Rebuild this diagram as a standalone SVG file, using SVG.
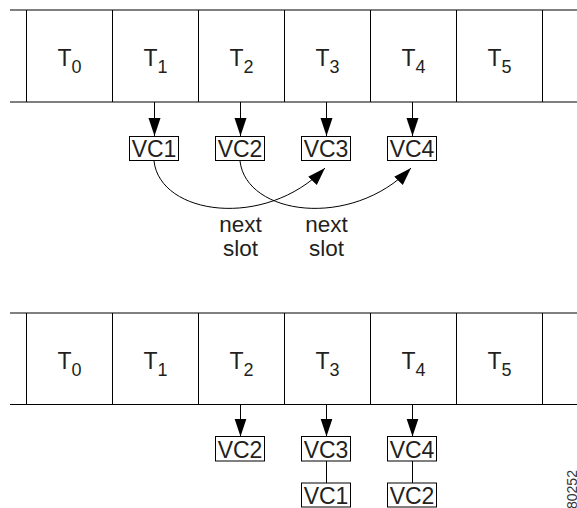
<svg xmlns="http://www.w3.org/2000/svg" width="577" height="508" viewBox="0 0 577 508">
<style>
.rail{stroke:#000;stroke-width:1;fill:none}
.box{fill:#fff;stroke:#000;stroke-width:1}
.t{font-family:"Liberation Sans",Arial,sans-serif;font-size:23px;fill:#231f20;text-anchor:middle}
.sub{font-size:18px}
.vc{font-family:"Liberation Sans",Arial,sans-serif;font-size:23px;fill:#231f20;text-anchor:middle}
.lbl{font-family:"Liberation Sans",Arial,sans-serif;font-size:22.5px;fill:#231f20;text-anchor:middle}
.id{font-family:"Liberation Sans",Arial,sans-serif;font-size:14px;fill:#333}
.conn{stroke:#000;stroke-width:1;fill:none}
</style>
<defs>
<marker id="ah" markerUnits="userSpaceOnUse" markerWidth="19" markerHeight="13" refX="18" refY="6" orient="auto">
<path d="M0,0 L18,6 L0,12 z" fill="#000"/>
</marker>
</defs>

<g id="band-top">
<path class="rail" d="M10,10 H577 M10,102 H577 M26.5,10 V102 M112.5,10 V102 M198.5,10 V102 M284.5,10 V102 M370.5,10 V102 M456.5,10 V102 M542.5,10 V102"/>
<g id="top-T0"><text class="t" x="69.5" y="66">T<tspan class="sub" dy="7">0</tspan></text></g>
<g id="top-T1"><text class="t" x="155.5" y="66">T<tspan class="sub" dy="7">1</tspan></text></g>
<g id="top-T2"><text class="t" x="241.5" y="66">T<tspan class="sub" dy="7">2</tspan></text></g>
<g id="top-T3"><text class="t" x="327.5" y="66">T<tspan class="sub" dy="7">3</tspan></text></g>
<g id="top-T4"><text class="t" x="413.5" y="66">T<tspan class="sub" dy="7">4</tspan></text></g>
<g id="top-T5"><text class="t" x="499.5" y="66">T<tspan class="sub" dy="7">5</tspan></text></g>
</g>

<g id="band-bottom">
<path class="rail" d="M10,313 H577 M10,404.5 H577 M26.5,313 V404.5 M112.5,313 V404.5 M198.5,313 V404.5 M284.5,313 V404.5 M370.5,313 V404.5 M456.5,313 V404.5 M542.5,313 V404.5"/>
<g id="bot-T0"><text class="t" x="69.5" y="369">T<tspan class="sub" dy="7">0</tspan></text></g>
<g id="bot-T1"><text class="t" x="155.5" y="369">T<tspan class="sub" dy="7">1</tspan></text></g>
<g id="bot-T2"><text class="t" x="241.5" y="369">T<tspan class="sub" dy="7">2</tspan></text></g>
<g id="bot-T3"><text class="t" x="327.5" y="369">T<tspan class="sub" dy="7">3</tspan></text></g>
<g id="bot-T4"><text class="t" x="413.5" y="369">T<tspan class="sub" dy="7">4</tspan></text></g>
<g id="bot-T5"><text class="t" x="499.5" y="369">T<tspan class="sub" dy="7">5</tspan></text></g>
</g>

<g id="connectors">
<line class="conn" x1="154.5" y1="102" x2="154.5" y2="136" marker-end="url(#ah)"/>
<line class="conn" x1="240.5" y1="102" x2="240.5" y2="136" marker-end="url(#ah)"/>
<line class="conn" x1="326.5" y1="102" x2="326.5" y2="136" marker-end="url(#ah)"/>
<line class="conn" x1="412.5" y1="102" x2="412.5" y2="136" marker-end="url(#ah)"/>
<path class="conn" d="M154,161 C160,215 265,230 325,168" marker-end="url(#ah)"/>
<path class="conn" d="M240,161 C246,215 351,230 411,168" marker-end="url(#ah)"/>
<line class="conn" x1="240.5" y1="404.5" x2="240.5" y2="436.5" marker-end="url(#ah)"/>
<line class="conn" x1="326.5" y1="404.5" x2="326.5" y2="436.5" marker-end="url(#ah)"/>
<line class="conn" x1="412.5" y1="404.5" x2="412.5" y2="436.5" marker-end="url(#ah)"/>
<line class="conn" x1="326.5" y1="461" x2="326.5" y2="483"/>
<line class="conn" x1="412.5" y1="461" x2="412.5" y2="483"/>
</g>

<g id="top-VC1"><rect class="box" x="129.5" y="136.5" width="49" height="24"/><text class="vc" x="154" y="157">VC1</text></g>
<g id="top-VC2"><rect class="box" x="215.5" y="136.5" width="49" height="24"/><text class="vc" x="240" y="157">VC2</text></g>
<g id="top-VC3"><rect class="box" x="301.5" y="136.5" width="49" height="24"/><text class="vc" x="326" y="157">VC3</text></g>
<g id="top-VC4"><rect class="box" x="387.5" y="136.5" width="49" height="24"/><text class="vc" x="412" y="157">VC4</text></g>

<g id="label-next1"><text class="lbl" x="240.5" y="232">next</text><text class="lbl" x="240.5" y="256">slot</text></g>
<g id="label-next2"><text class="lbl" x="326.5" y="232">next</text><text class="lbl" x="326.5" y="256">slot</text></g>

<g id="bot-VC2"><rect class="box" x="215.5" y="436.5" width="49" height="24.5"/><text class="vc" x="240" y="457.5">VC2</text></g>
<g id="bot-VC3"><rect class="box" x="301.5" y="436.5" width="49" height="24.5"/><text class="vc" x="326" y="457.5">VC3</text></g>
<g id="bot-VC4"><rect class="box" x="387.5" y="436.5" width="49" height="24.5"/><text class="vc" x="412" y="457.5">VC4</text></g>
<g id="bot-VC1"><rect class="box" x="301.5" y="483" width="49" height="24"/><text class="vc" x="326" y="503.5">VC1</text></g>
<g id="bot-VC2b"><rect class="box" x="387.5" y="483" width="49" height="24"/><text class="vc" x="412" y="503.5">VC2</text></g>

<text class="id" transform="translate(577,509) rotate(-90)">80252</text>
</svg>
